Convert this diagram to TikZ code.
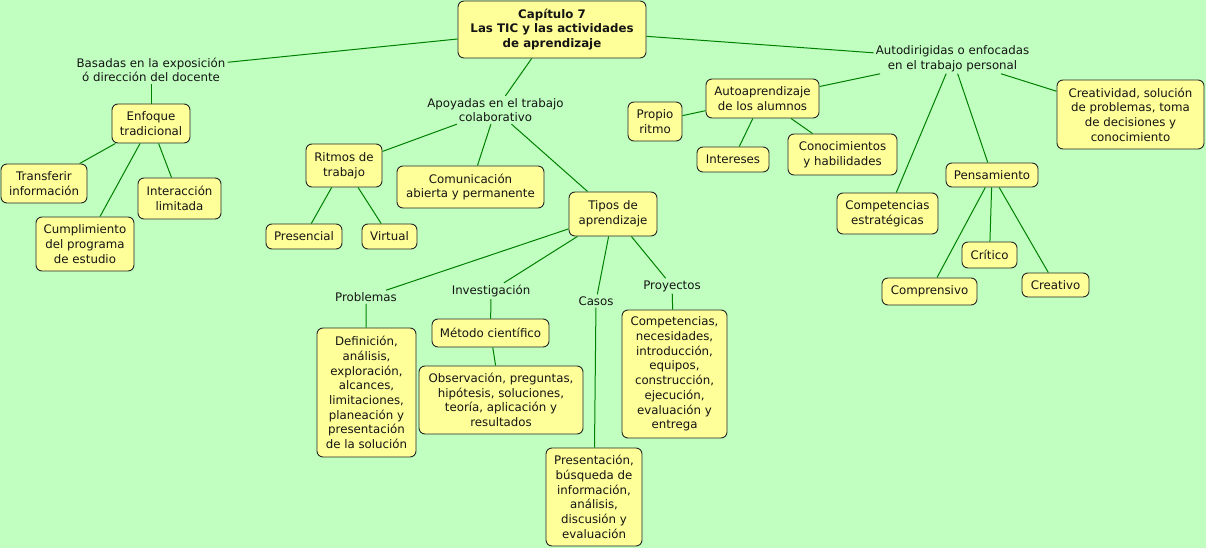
\documentclass[tikz,border=0pt]{standalone}
\usepackage{fontspec}
\setmainfont{DejaVu Sans}
\usetikzlibrary{positioning}
\definecolor{bggreen}{RGB}{192,255,192}
\definecolor{boxyellow}{RGB}{255,255,153}
\definecolor{linegreen}{RGB}{0,128,0}
\definecolor{inkgray}{RGB}{20,20,20}

\begin{document}
\begin{tikzpicture}[x = 1pt, y = -1pt,
  concept/.style = {draw = black!85, line width = 0.9pt, fill = boxyellow, shape = rectangle, rounded corners = 6pt, align = center, inner sep = 0pt, text = inkgray, font = \fontsize{11.8}{14.7}\selectfont},
  phrase/.style = {shape = rectangle, align = center, inner sep = 2pt, text = inkgray, font = \fontsize{11.8}{14.7}\selectfont},
  link/.style = {draw = linegreen, line width = 1pt}]
\fill[bggreen] (0,0) rectangle (1206,548);
\useasboundingbox (0,0) rectangle (1206,548);

\node[concept, minimum width = 188pt, minimum height = 57pt, font = \fontsize{11.8}{14.7}\selectfont\bfseries] (cap) at (552,29.5) {Capítulo 7\\Las TIC y las actividades\\de aprendizaje};

% left branch
\node[phrase] (basadas) at (151,70) {Basadas en la exposición\\ó dirección del docente};
\node[concept, minimum width = 78pt, minimum height = 39pt] (enfoque) at (151,123.5) {Enfoque\\tradicional};
\node[concept, minimum width = 86pt, minimum height = 39pt] (transferir) at (44,183.5) {Transferir\\información};
\node[concept, minimum width = 98pt, minimum height = 54pt] (cumplimiento) at (85,244) {Cumplimiento\\del programa\\de estudio};
\node[concept, minimum width = 83pt, minimum height = 41pt] (interaccion) at (179.5,198.5) {Interacción\\limitada};

% middle branch
\node[phrase] (apoyadas) at (495.5,110) {Apoyadas en el trabajo\\colaborativo};
\node[concept, minimum width = 76pt, minimum height = 43pt] (ritmos) at (344,165.5) {Ritmos de\\trabajo};
\node[concept, minimum width = 76pt, minimum height = 25pt] (presencial) at (304,236.5) {Presencial};
\node[concept, minimum width = 55pt, minimum height = 25pt] (virtual) at (389.5,236.5) {Virtual};
\node[concept, minimum width = 147pt, minimum height = 42pt] (comunicacion) at (470.5,187) {Comunicación\\abierta y permanente};
\node[concept, minimum width = 88pt, minimum height = 44pt] (tipos) at (613,214) {Tipos de\\aprendizaje};

\node[phrase] (problemas) at (366,297) {Problemas};
\node[concept, minimum width = 99pt, minimum height = 129pt] (definicion) at (366.5,392.5) {Definición,\\análisis,\\exploración,\\alcances,\\limitaciones,\\planeación y\\presentación\\de la solución};
\node[phrase] (investigacion) at (491,291) {Investigación};
\node[concept, minimum width = 117pt, minimum height = 28pt] (metodo) at (490.5,333) {Método científico};
\node[concept, minimum width = 164pt, minimum height = 68pt] (observacion) at (501,400) {Observación, preguntas,\\hipótesis, soluciones,\\teoría, aplicación y\\resultados};
\node[phrase] (casos) at (596,301) {Casos};
\node[concept, minimum width = 96pt, minimum height = 98pt] (presentacion) at (594,497) {Presentación,\\búsqueda de\\información,\\análisis,\\discusión y\\evaluación};
\node[phrase] (proyectos) at (672,286) {Proyectos};
\node[concept, minimum width = 105pt, minimum height = 128pt] (competencias) at (674.5,374) {Competencias,\\necesidades,\\introducción,\\equipos,\\construcción,\\ejecución,\\evaluación y\\entrega};

% right branch
\node[phrase] (autodirigidas) at (952.5,58.5) {Autodirigidas o enfocadas\\en el trabajo personal};
\node[concept, minimum width = 113pt, minimum height = 39pt] (autoapr) at (762.5,98.5) {Autoaprendizaje\\de los alumnos};
\node[concept, minimum width = 54pt, minimum height = 39pt] (propio) at (655,121.5) {Propio\\ritmo};
\node[concept, minimum width = 72pt, minimum height = 25pt] (intereses) at (733,159.5) {Intereses};
\node[concept, minimum width = 109pt, minimum height = 41pt] (conocimientos) at (842.5,154.5) {Conocimientos\\y habilidades};
\node[concept, minimum width = 147pt, minimum height = 69pt] (creatividad) at (1130.5,114.5) {Creatividad, solución\\de problemas, toma\\de decisiones y\\conocimiento};
\node[concept, minimum width = 92pt, minimum height = 24pt] (pensamiento) at (992,175) {Pensamiento};
\node[concept, minimum width = 101pt, minimum height = 41pt] (estrategicas) at (887.5,213.5) {Competencias\\estratégicas};
\node[concept, minimum width = 55pt, minimum height = 26pt] (critico) at (989.5,255) {Crítico};
\node[concept, minimum width = 95pt, minimum height = 27pt] (comprensivo) at (929.5,291.5) {Comprensivo};
\node[concept, minimum width = 67pt, minimum height = 24pt] (creativo) at (1055.5,285) {Creativo};

% connectors
\draw[link] (cap) -- (basadas);
\draw[link] (basadas) -- (enfoque);
\draw[link] (enfoque) -- (transferir);
\draw[link] (enfoque) -- (cumplimiento);
\draw[link] (enfoque) -- (interaccion);
\draw[link] (cap) -- (apoyadas);
\draw[link] (apoyadas) -- (ritmos);
\draw[link] (apoyadas) -- (comunicacion);
\draw[link] (apoyadas) -- (tipos);
\draw[link] (ritmos) -- (presencial);
\draw[link] (ritmos) -- (virtual);
\draw[link] (tipos) -- (problemas);
\draw[link] (tipos) -- (investigacion);
\draw[link] (tipos) -- (casos);
\draw[link] (tipos) -- (proyectos);
\draw[link] (problemas) -- (definicion);
\draw[link] (investigacion) -- (metodo);
\draw[link] (metodo) -- (observacion);
\draw[link] (casos) -- (presentacion);
\draw[link] (proyectos) -- (competencias);
\draw[link] (cap) -- (autodirigidas);
\draw[link] (autodirigidas) -- (autoapr);
\draw[link] (autodirigidas) -- (estrategicas);
\draw[link] (autodirigidas) -- (pensamiento);
\draw[link] (autodirigidas) -- (creatividad);
\draw[link] (autoapr) -- (propio);
\draw[link] (autoapr) -- (intereses);
\draw[link] (autoapr) -- (conocimientos);
\draw[link] (pensamiento) -- (comprensivo);
\draw[link] (pensamiento) -- (critico);
\draw[link] (pensamiento) -- (creativo);
\end{tikzpicture}
\end{document}
